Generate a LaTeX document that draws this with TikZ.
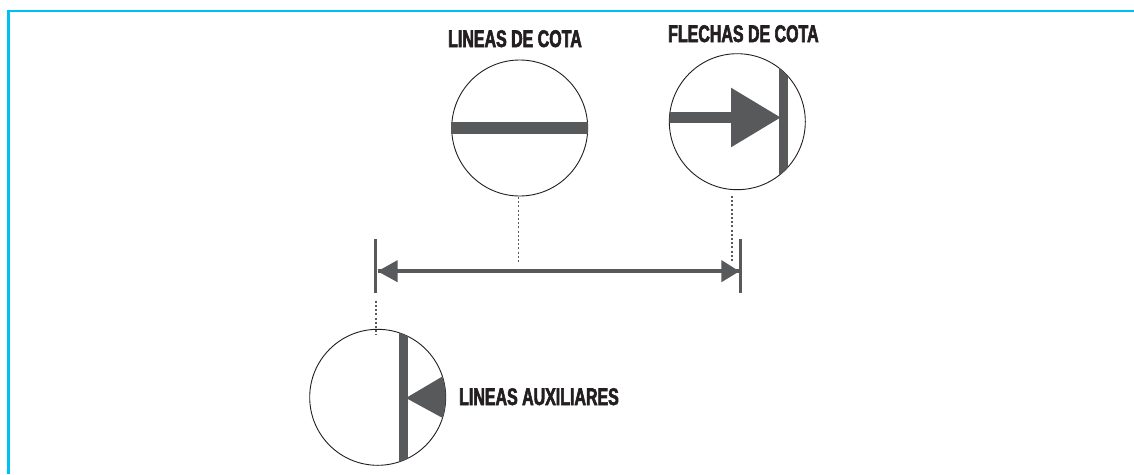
\documentclass[tikz,border=0pt]{standalone}
\usepackage{fontspec}
\setmainfont{Liberation Sans}[FakeStretch=0.665,FakeBold=2.4]
\definecolor{dimgray}{HTML}{58595B}
\definecolor{framecyan}{HTML}{00BFF3}
\definecolor{labelink}{HTML}{231F20}
\tikzset{
  lens/.style={circle,draw=labelink,line width=0.9pt,minimum size=136pt,inner sep=0pt},
  heavy/.style={draw=dimgray,line width=#1,line cap=butt},
  leader/.style={draw=dimgray,line width=1.3pt,dash pattern=on 2pt off 2.2pt},
  tip/.style={fill=dimgray,draw=none},
  caption/.style={text=labelink,font=\fontsize{24}{26}\selectfont\bfseries,inner sep=0pt,anchor=base west},
}
\begin{document}
\begin{tikzpicture}[x=1pt,y=-1pt]
\useasboundingbox (0,0) rectangle (1134,474);
\fill[white] (0,0) rectangle (1134,474);
\draw[framecyan,line width=2.6pt] (8.5,474) -- (8.5,11) -- (1134,11);

\node[lens] (top) at (519.7,128) {};
\node[lens] (arrowlens) at (737.3,121.7) {};
\node[lens] (side) at (377.7,397.3) {};

\draw[heavy=11.4pt] (top.west) -- (top.east);

\begin{scope}
\clip (arrowlens) circle (68pt);
\coordinate (shaftstart) at (660,117.5);
\coordinate (shaftend) at (735,117.5);
\draw[heavy=11.5pt] (shaftstart) -- (shaftend);
\draw[heavy=9pt] (783.8,40) -- (783.8,200);
\end{scope}
\fill[tip] (731,87.7) -- (780.5,117.5) -- (731,147.3) -- cycle;

\begin{scope}
\clip (side) circle (68pt);
\draw[heavy=8.8pt] (403.6,320) -- (403.6,470);
\fill[tip] (406,398) -- (450,372) -- (450,422) -- cycle;
\end{scope}

\coordinate (ltop) at (375.7,239.3);
\coordinate (lbot) at (375.7,293.3);
\coordinate (rtop) at (740.7,239.3);
\coordinate (rbot) at (740.7,293.3);
\coordinate (ltip) at (377.7,271.3);
\coordinate (rtip) at (739.3,271.3);
\draw[heavy=2.8pt] (ltop) -- (lbot);
\draw[heavy=2.8pt] (rtop) -- (rbot);
\draw[heavy=4.2pt] (ltip) -- (rtip);
\fill[tip] (ltip) -- (397.7,260) -- (397.7,282.3) -- cycle;
\fill[tip] (rtip) -- (721.3,260) -- (721.3,282.3) -- cycle;

\coordinate (midstart) at (518.3,197);
\coordinate (midend) at (518.3,262);
\coordinate (rightend) at (732,262);
\coordinate (rightstart) at (732,196);
\coordinate (leftstart) at (376,300.7);
\coordinate (leftend) at (376,335);
\draw[leader] (midstart) -- (midend);
\draw[leader] (rightstart) -- (rightend);
\draw[leader] (leftstart) -- (leftend);

\node[caption] (t1) at (448,47) {LINEAS DE COTA};
\node[caption] (t2) at (668,42) {FLECHAS DE COTA};
\node[caption] (t3) at (459,405) {LINEAS AUXILIARES};
\end{tikzpicture}
\end{document}
